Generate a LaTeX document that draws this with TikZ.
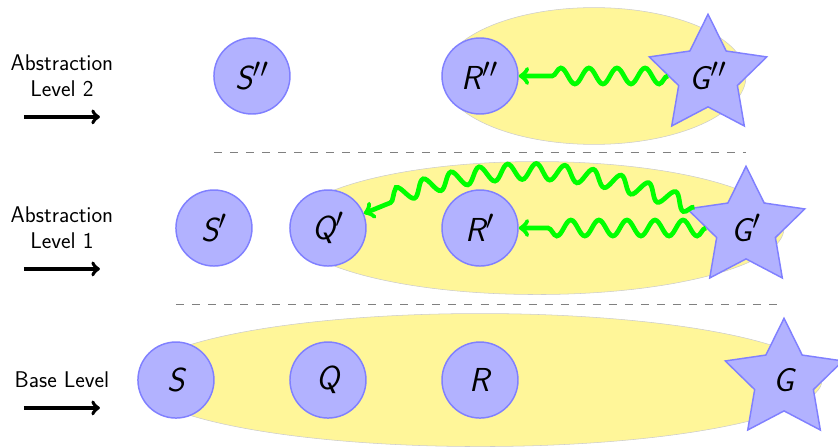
\documentclass[tikz,border=0pt]{standalone}
\usetikzlibrary{shapes.geometric,decorations.pathmorphing}
\definecolor{setyellow}{RGB}{255,246,153}
\begin{document}
\begin{tikzpicture}[>=to,
		state/.style={circle,draw=blue!50,fill=blue!30,line width=1.1pt,minimum size=2cm,inner sep=0pt,font=\Huge\sffamily\itshape},
		goal/.style={star,star points=5,star point ratio=2,draw=blue!50,fill=blue!30,line width=1.1pt,minimum size=3.25cm,inner sep=0pt,font=\Huge\sffamily\itshape},
		region/.style={draw=black!20,fill=setyellow},
		levelname/.style={align=center,font=\fontsize{17}{19.5}\selectfont\sffamily},
		levelarrow/.style={->,line width=2.8pt},
		wavy/.style={->,green,line width=3.5pt,decorate,decoration={snake,amplitude=6pt,segment length=21pt,post length=6mm}}]
				\useasboundingbox (-4.63,-1.76) rectangle (17.42,10);
				% abstract state sets
				\draw[region] (8,0) ellipse (9 and 1.75);
				\draw[region] (9.5,4) ellipse (6.5 and 1.75);
				\draw[region] (11,8) ellipse (4 and 1.8);
				\foreach \y/\a/\b in {6/1/15,2/0/16}{
					\draw[gray,dash pattern=on 6pt off 6pt] (\a,\y)--(\b,\y);
				}
				% levels
				\node[levelname] (lev2) at (-3,8) {Abstraction\\Level 2};
				\node[levelname] (lev1) at (-3,4) {Abstraction\\Level 1};
				\node[levelname] (lev0) at (-3,0) {Base Level};
				\foreach \l in {lev2,lev1,lev0}{
					\draw[levelarrow] ([shift={(-1,-0.4)}]\l.south)--([shift={(1,-0.4)}]\l.south);
				}
				% states
				\node[state] (S) at (0,0) {S};
				\node[state] (Q) at (4,0) {Q};
				\node[state] (R) at (8,0) {R};
				\node[goal] (G) at (16,0) {G};
				\node[state] (S1) at (1,4) {S$'$};
				\node[state] (Q1) at (4,4) {Q$'$};
				\node[state] (R1) at (8,4) {R$'$};
				\node[goal] (G1) at (15,4) {G$'$};
				\node[state] (S2) at (2,8) {S$''$};
				\node[state] (R2) at (8,8) {R$''$};
				\node[goal] (G2) at (14,8) {G$''$};
				% plans
				\draw[wavy] (G2)--(R2);
				\draw[wavy] (G1)--(R1);
				\draw[wavy] (G1) to[bend right=22] (Q1);
			\end{tikzpicture}
\end{document}
